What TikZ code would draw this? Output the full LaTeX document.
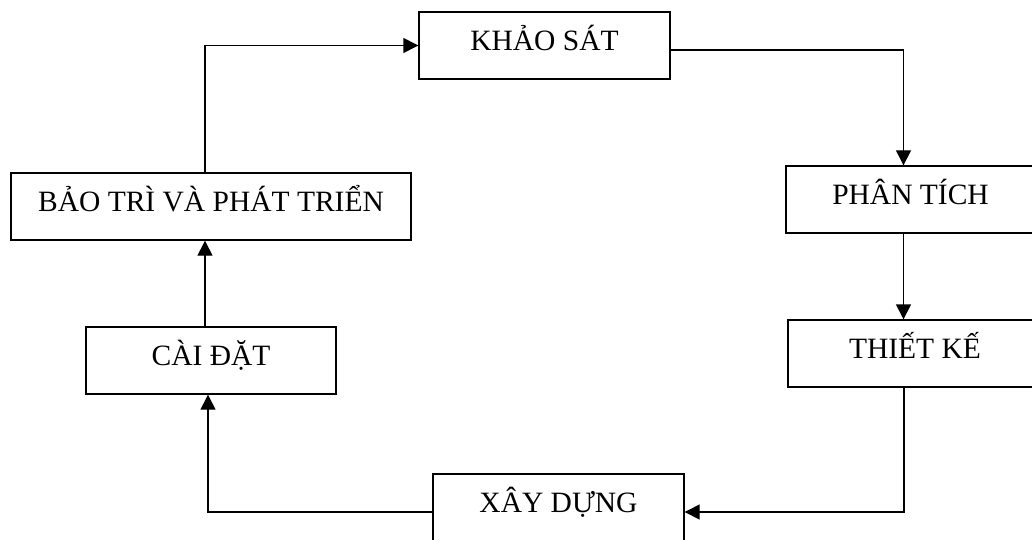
\documentclass[tikz,border=0pt]{standalone}
\usepackage{fontspec}
\setmainfont{Liberation Serif}
\usetikzlibrary{arrows.meta}
\begin{document}
\begin{tikzpicture}[x=1pt,y=-1pt,
  stage/.style={draw, line width=1.4pt, rectangle, minimum height=67pt, inner sep=0pt,
    text height=20pt, text depth=10pt, font=\fontsize{29.5}{35}\selectfont},
  arr/.style={line width=1.4pt, -{Triangle[length=15pt,width=15pt]}}]
\useasboundingbox (0,0) rectangle (1032,540);
\clip (0,0) rectangle (1032,540);
\fill[white] (0,0) rectangle (1032,540);
\node[stage, minimum width=251pt] (ks) at (544.5,45.5) {KHẢO SÁT};
\node[stage, minimum width=249pt] (pt) at (910.5,199.5) {PHÂN TÍCH};
\node[stage, minimum width=254pt] (tk) at (915,353.5) {THIẾT KẾ};
\node[stage, minimum width=251pt] (xd) at (558.5,507.5) {XÂY DỰNG};
\node[stage, minimum width=250pt] (cd) at (211,360.5) {CÀI ĐẶT};
\node[stage, minimum width=400pt] (bt) at (211,206.5) {BẢO TRÌ VÀ PHÁT TRIỂN};
\draw[arr] ([xshift=-6pt]bt.north) |- (ks.west);
\draw[arr] ([yshift=-4.5pt]ks.east) -| ([xshift=-7pt]pt.north);
\draw[arr] ([xshift=-7pt]pt.south) -- ([xshift=-7pt]pt.south |- tk.north);
\draw[arr] ([xshift=-11pt]tk.south) |- ([yshift=-4.5pt]xd.east);
\draw[arr] ([yshift=-4.5pt]xd.west) -| ([xshift=-3pt]cd.south);
\draw[arr] ([xshift=-6pt]cd.north) -- ([xshift=-6pt]cd.north |- bt.south);
\end{tikzpicture}
\end{document}
